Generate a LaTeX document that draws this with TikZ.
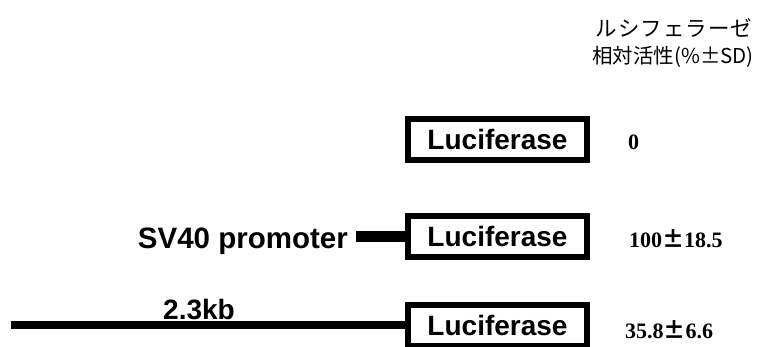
\documentclass[tikz,border=0pt]{standalone}
\usepackage{fontspec}
\setmainfont{Liberation Serif}
\newfontfamily\lsans{Liberation Sans}
\newfontfamily\cjk{Noto Sans CJK JP}
\begin{document}
\begin{tikzpicture}[x=1pt,y=-1pt,
  lucbox/.style={draw, line width=6pt, minimum width=179pt, minimum height=41pt, inner sep=0pt,
    font=\lsans\bfseries\fontsize{28}{30}\selectfont},
  val/.style={anchor=base west, inner sep=0pt, font=\bfseries\fontsize{22}{24}\selectfont},
  lab/.style={inner sep=0pt, font=\lsans\bfseries\fontsize{28}{30}\selectfont},
  head/.style={anchor=base, inner sep=0pt},
  conn/.style={draw, line cap=butt}]
\useasboundingbox (0,0) rectangle (768,346);
\clip (0,0) rectangle (768,346);
% header
\node[head, font=\cjk\fontsize{21.5}{23}\selectfont] (h1) at (674,36)
  {ル\hspace{1pt}シ\hspace{1pt}フ\hspace{1pt}ェ\hspace{1pt}ラ\hspace{1pt}ー\hspace{1pt}ゼ};
\node[head, font=\cjk\fontsize{20.5}{22}\selectfont] (h2) at (673,63) {相対活性(\%±SD)};
% boxes
\node[lucbox] (b1) at (497.5,139.5) {Luciferase};
\node[lucbox] (b2) at (497.5,236.5) {Luciferase};
\node[lucbox] (b3) at (497.5,325) {Luciferase};
% values
\def\pm{{\cjk ±}}
\node[val] (v1) at (628,149) {0};
\node[val] (v2) at (629,247) {100\pm18.5};
\node[val] (v3) at (625,338) {35.8\pm6.6};
% labels and connectors
\node[lab, anchor=base east, font=\lsans\bfseries\fontsize{29.5}{31}\selectfont] (sv) at (348,248) {SV40 promoter};
\coordinate (s0) at (356,236.5);
\draw[conn, line width=11pt] (s0) -- (b2.west);
\coordinate (k0) at (11,325);
\draw[conn, line width=8pt] (k0) -- (b3.west);
\node[lab, anchor=base west] (kb) at (163,319.5) {2.3kb};
\end{tikzpicture}
\end{document}
